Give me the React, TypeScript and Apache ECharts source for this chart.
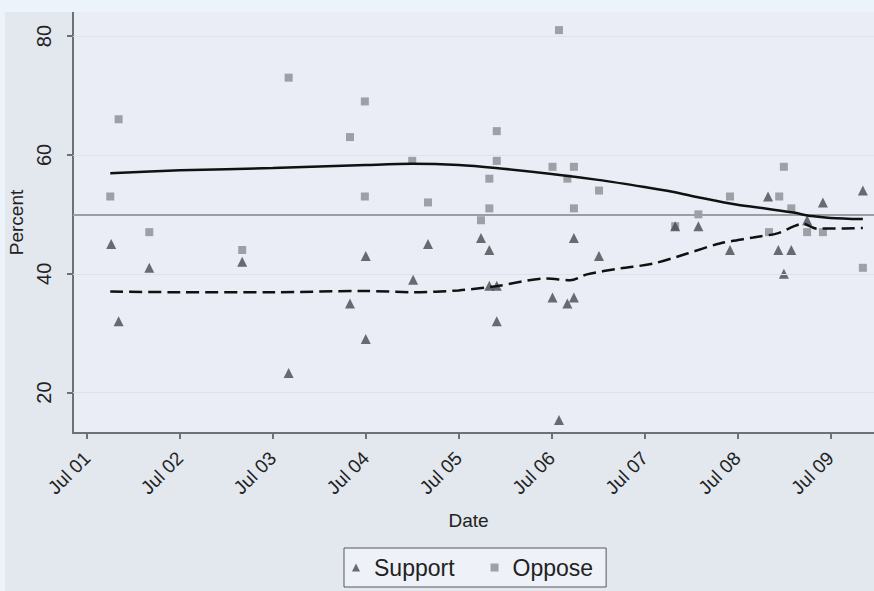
import React, { useEffect, useRef } from "react";
import * as echarts from "echarts";

// Days after Jul 01 (0 = Jul 01)
const supportDays = [0.26, 0.34, 0.67, 1.67, 2.17, 2.83, 3.0, 3.0, 3.51, 3.67, 4.24, 4.33, 4.33, 4.41, 4.41, 5.01, 5.08, 5.17, 5.24, 5.24, 5.51, 6.33, 6.58, 6.92, 7.33, 7.44, 7.5, 7.58, 7.75, 7.92, 8.35];
const supportValues = [45, 32, 41, 42, 23.3, 35, 43, 29, 39, 45, 46, 44, 38, 38, 32, 36, 15.4, 35, 36, 46, 43, 48, 48, 44, 53, 44, 40, 44, 49, 52, 54];
const opposeDays = [0.25, 0.34, 0.67, 1.67, 2.17, 2.83, 2.99, 2.99, 3.5, 3.67, 4.24, 4.33, 4.33, 4.41, 4.41, 5.01, 5.08, 5.17, 5.24, 5.24, 5.51, 6.33, 6.58, 6.92, 7.34, 7.45, 7.5, 7.58, 7.75, 7.92, 8.35];
const opposeValues = [53, 66, 47, 44, 73, 63, 69, 53, 59, 52, 49, 56, 51, 64, 59, 58, 81, 56, 58, 51, 54, 48, 50, 53, 47, 53, 58, 51, 47, 47, 41];

const opposeSmoothDays = [0.25, 1.0, 2.0, 3.0, 3.5, 4.0, 4.4, 5.0, 5.5, 6.0, 6.3, 6.6, 7.0, 7.3, 7.6, 7.8, 8.0, 8.35];
const opposeSmoothValues = [56.9, 57.4, 57.8, 58.3, 58.5, 58.3, 57.8, 56.8, 55.8, 54.6, 53.8, 52.8, 51.6, 51.0, 50.3, 49.7, 49.4, 49.2];
const supportSmoothDays = [0.25, 1.0, 2.0, 3.0, 3.5, 4.0, 4.4, 4.95, 5.2, 5.38, 5.74, 6.09, 6.46, 6.81, 7.17, 7.43, 7.71, 7.85, 8.0, 8.35];
const supportSmoothValues = [37.0, 36.9, 36.9, 37.1, 36.9, 37.2, 37.9, 39.2, 38.9, 39.9, 40.9, 41.7, 43.4, 45.1, 46.1, 46.8, 48.4, 47.6, 47.6, 47.7];

const dayTicks = [0, 1, 2, 3, 4, 5, 6, 7, 8];
const dayLabels = ["Jul 01", "Jul 02", "Jul 03", "Jul 04", "Jul 05", "Jul 06", "Jul 07", "Jul 08", "Jul 09"];
const percentTicks = [20, 40, 60, 80];
const referenceValue = 50;

const FONT = "'Liberation Sans', Arial, sans-serif";

export default function App() {
  const ref = useRef<HTMLDivElement>(null);
  useEffect(() => {
    document.body.style.margin = "0";
    if (!ref.current) return;
    const chart = echarts.init(ref.current, undefined, { renderer: "svg" });
    const pair = (xs: number[], ys: number[]) => xs.map((x, i) => [x, ys[i]]);
    chart.setOption({
      animation: false,
      backgroundColor: "#e3e7ee",
      textStyle: { fontFamily: FONT },
      grid: {
        left: 68,
        top: 0,
        right: 0,
        bottom: 158,
        containLabel: false,
        outerBoundsMode: "none",
        show: true,
        backgroundColor: "#eaedf5",
        borderWidth: 0,
      },
      xAxis: {
        type: "value",
        min: -0.151,
        max: 8.47,
        name: "Date",
        nameLocation: "middle",
        nameGap: 78,
        nameTextStyle: { fontSize: 19, color: "#222", fontFamily: FONT, padding: [0, 10, 0, 0] },
        axisLine: { show: true, onZero: false, lineStyle: { color: "#6c7077", width: 2 } },
        axisTick: { show: true, length: 6, lineStyle: { color: "#6c7077", width: 2 }, customValues: dayTicks },
        axisLabel: {
          rotate: 45,
          margin: 22,
          fontSize: 19,
          color: "#222",
          fontFamily: FONT,
          customValues: dayTicks,
          formatter: (v: number) => dayLabels[Math.round(v)] ?? "",
        },
        splitLine: { show: false },
      },
      yAxis: {
        type: "value",
        min: 13.2,
        max: 84.05,
        name: "Percent",
        nameLocation: "middle",
        nameGap: 40,
        nameTextStyle: { fontSize: 19, color: "#222", fontFamily: FONT },
        axisLine: { show: true, onZero: false, lineStyle: { color: "#6c7077", width: 2 } },
        axisTick: { show: true, length: 6, lineStyle: { color: "#6c7077", width: 2 }, customValues: percentTicks },
        axisLabel: {
          rotate: 90,
          margin: 19,
          fontSize: 20,
          color: "#222",
          fontFamily: FONT,
          customValues: percentTicks,
        },
        splitLine: { show: false },
      },
      legend: {
        data: ["Support", "Oppose"],
        left: 339,
        top: 536,
        orient: "horizontal",
        backgroundColor: "#eef1f7",
        borderColor: "#55585e",
        borderWidth: 1,
        borderRadius: 0,
        padding: [8, 13, 8, 8],
        itemGap: 36,
        itemWidth: 8,
        itemHeight: 8,
        textStyle: { fontSize: 23, color: "#222", fontFamily: FONT, padding: [0, 0, 0, 9] },
      },
      series: [
        {
          name: "grid",
          type: "line",
          data: [],
          silent: true,
          markLine: {
            silent: true,
            symbol: "none",
            label: { show: false },
            lineStyle: { color: "#dde1e9", width: 1, type: "solid" },
            data: percentTicks.map((v) => ({ yAxis: v })),
          },
        },
        {
          name: "reference",
          type: "line",
          data: [],
          silent: true,
          markLine: {
            silent: true,
            symbol: "none",
            label: { show: false },
            lineStyle: { color: "#9a9ea6", width: 2, type: "solid" },
            data: [{ yAxis: referenceValue }],
          },
        },
        {
          name: "Oppose",
          type: "scatter",
          symbol: "rect",
          symbolSize: 8,
          itemStyle: { color: "#8a8c92" },
          data: pair(opposeDays, opposeValues),
          z: 3,
        },
        {
          name: "Support",
          type: "scatter",
          symbol: "triangle",
          symbolSize: 10,
          itemStyle: { color: "#46484c" },
          data: pair(supportDays, supportValues),
          z: 4,
        },
        {
          name: "Oppose smoothed",
          type: "line",
          smooth: 0.3,
          showSymbol: false,
          symbol: "none",
          lineStyle: { color: "#111", width: 2.5 },
          data: pair(opposeSmoothDays, opposeSmoothValues),
          z: 5,
        },
        {
          name: "Support smoothed",
          type: "line",
          smooth: 0.3,
          showSymbol: false,
          symbol: "none",
          lineStyle: { color: "#111", width: 2.5, type: [13, 6] },
          data: pair(supportSmoothDays, supportSmoothValues),
          z: 5,
        },
      ],
    });
    return () => chart.dispose();
  }, []);
  return (
    <div style={{ position: "relative", width: 874, height: 591, background: "#ecf3fb", overflow: "hidden" }}>
      <div ref={ref} style={{ position: "absolute", left: 5, top: 12, width: 869, height: 579 }} />
    </div>
  );
}
